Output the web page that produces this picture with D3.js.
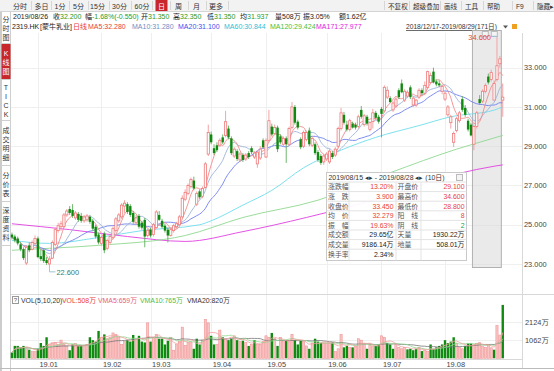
<!DOCTYPE html>
<html><head><meta charset="utf-8">
<script src="https://cdn.jsdelivr.net/npm/d3@7"></script>
<style>
body{margin:0;background:#fff;}
svg{display:block;font-family:"Liberation Sans","Noto Sans CJK SC",sans-serif;}
</style></head>
<body><svg id="c" width="554" height="371"></svg>
<script>
// ---------------- DATA ----------------
const dates = [
"2018-12-17","2018-12-18","2018-12-19","2018-12-20","2018-12-21","2018-12-24","2018-12-27","2018-12-28","2018-12-31",
"2019-01-02","2019-01-03","2019-01-04","2019-01-07","2019-01-08","2019-01-09","2019-01-10","2019-01-11","2019-01-14","2019-01-15","2019-01-16","2019-01-17","2019-01-18","2019-01-21","2019-01-22","2019-01-23","2019-01-24","2019-01-25","2019-01-28","2019-01-29","2019-01-30","2019-01-31",
"2019-02-01","2019-02-04","2019-02-08","2019-02-11","2019-02-12","2019-02-13","2019-02-14","2019-02-15","2019-02-18","2019-02-19","2019-02-20","2019-02-21","2019-02-22","2019-02-25","2019-02-26","2019-02-27","2019-02-28",
"2019-03-01","2019-03-04","2019-03-05","2019-03-06","2019-03-07","2019-03-08","2019-03-11","2019-03-12","2019-03-13","2019-03-14","2019-03-15","2019-03-18","2019-03-19","2019-03-20","2019-03-21","2019-03-22","2019-03-25","2019-03-26","2019-03-27","2019-03-28","2019-03-29",
"2019-04-01","2019-04-02","2019-04-03","2019-04-04","2019-04-08","2019-04-09","2019-04-10","2019-04-11","2019-04-12","2019-04-15","2019-04-16","2019-04-17","2019-04-18","2019-04-23","2019-04-24","2019-04-25","2019-04-26","2019-04-29","2019-04-30",
"2019-05-02","2019-05-03","2019-05-06","2019-05-07","2019-05-08","2019-05-09","2019-05-10","2019-05-14","2019-05-15","2019-05-16","2019-05-17","2019-05-20","2019-05-21","2019-05-22","2019-05-23","2019-05-24","2019-05-27","2019-05-28","2019-05-29","2019-05-30","2019-05-31",
"2019-06-03","2019-06-04","2019-06-05","2019-06-06","2019-06-10","2019-06-11","2019-06-12","2019-06-13","2019-06-14","2019-06-17","2019-06-18","2019-06-19","2019-06-20","2019-06-21","2019-06-24","2019-06-25","2019-06-26","2019-06-27","2019-06-28",
"2019-07-02","2019-07-03","2019-07-04","2019-07-05","2019-07-08","2019-07-09","2019-07-10","2019-07-11","2019-07-12","2019-07-15","2019-07-16","2019-07-17","2019-07-18","2019-07-19","2019-07-22","2019-07-23","2019-07-24","2019-07-25","2019-07-26","2019-07-29","2019-07-30","2019-07-31",
"2019-08-01","2019-08-02","2019-08-05","2019-08-06","2019-08-07","2019-08-08","2019-08-09","2019-08-12","2019-08-13","2019-08-14","2019-08-15","2019-08-16","2019-08-19","2019-08-20","2019-08-21","2019-08-22","2019-08-23","2019-08-26","2019-08-27","2019-08-28","2019-08-29"];

const open = [24.50,24.40,24.30,24.00,23.75,23.05,23.95,23.75,24.05,24.30,23.40,23.70,23.20,23.00,23.30,24.00,24.70,24.90,24.90,25.50,
25.80,25.75,25.35,25.55,25.45,25.20,25.25,25.40,25.20,24.90,24.50,24.05,24.55,23.80,24.10,24.35,24.70,25.20,25.40,25.95,
26.05,25.95,25.60,25.10,25.45,25.10,25.25,24.45,24.75,24.50,24.85,25.50,25.20,24.95,24.75,24.45,24.70,24.90,25.00,25.40,
26.30,26.60,26.95,27.25,26.05,26.70,26.45,26.90,28.60,29.60,28.90,29.05,29.05,29.45,29.55,29.90,29.40,28.50,28.75,28.30,
28.55,28.35,28.65,28.90,28.45,28.10,28.40,29.30,28.45,29.30,30.00,29.65,29.95,29.50,29.10,29.40,29.10,29.95,31.00,30.25,
29.35,29.00,29.35,29.80,29.05,29.10,28.70,28.50,28.20,28.35,28.20,28.65,28.55,29.00,29.90,30.60,30.10,29.85,30.15,30.10,
30.00,30.85,30.10,30.50,29.85,30.25,30.70,30.50,30.90,30.80,31.50,31.45,30.85,31.05,31.85,32.20,31.35,31.55,32.00,31.10,
31.10,31.50,31.85,31.70,32.00,32.25,32.80,32.30,32.20,31.80,31.40,30.60,30.20,29.20,29.80,30.30,31.40,30.95,30.30,30.10,
29.10,30.00,31.40,31.30,31.80,32.55,32.40,31.35,32.40,33.20,31.35];
const high = [24.60,24.50,24.40,24.10,23.85,23.95,24.10,24.20,24.45,24.40,23.75,23.80,23.35,23.40,24.20,24.85,25.10,25.20,25.60,25.80,
25.95,26.05,25.70,25.65,25.60,25.50,25.55,25.50,25.30,25.00,24.60,24.45,24.65,24.30,24.50,24.90,25.40,25.60,26.10,26.25,
26.15,26.05,25.70,25.50,25.55,25.20,25.35,24.80,24.85,25.10,25.75,25.70,25.30,25.05,24.85,24.85,25.05,25.15,25.50,26.50,
26.80,27.10,27.40,27.45,26.70,26.80,26.95,28.20,30.10,29.75,29.10,29.20,29.40,29.60,30.80,30.05,29.50,28.95,28.85,28.70,
28.65,28.65,28.75,29.00,28.75,28.80,29.00,29.40,29.40,30.85,30.15,30.10,30.05,29.60,29.50,29.50,30.00,31.25,31.10,30.35,
29.45,29.80,29.80,29.95,29.50,29.20,28.80,28.60,28.60,28.70,28.85,28.75,28.95,30.00,30.95,30.75,30.30,30.40,30.25,30.20,
30.60,31.05,30.65,30.60,30.25,30.90,30.80,30.60,31.00,32.10,32.05,31.55,31.30,31.50,31.95,32.40,31.90,31.85,32.10,31.55,
31.40,31.95,31.95,32.30,32.85,32.75,33.00,32.40,32.35,32.15,31.80,31.10,30.60,29.75,30.50,30.80,31.55,31.10,30.40,30.20,
30.10,30.80,31.60,31.90,32.20,32.70,32.90,32.35,34.60,33.60,32.20];
const low = [24.25,24.10,23.95,23.65,23.20,22.95,23.60,23.70,23.95,23.30,23.15,23.05,22.95,22.60,23.25,23.90,24.60,24.70,24.85,25.40,
25.50,25.35,25.25,25.15,25.10,25.10,25.15,25.05,24.70,24.30,24.00,23.95,23.55,23.70,24.00,24.25,24.60,25.10,25.30,25.60,
25.55,25.40,25.05,25.00,24.80,24.75,23.85,24.35,24.35,24.40,24.80,25.20,24.80,24.60,24.10,24.40,24.60,24.80,24.95,25.30,
26.20,26.50,26.85,26.75,25.95,26.30,26.35,26.85,28.50,29.10,28.55,28.70,28.95,29.10,29.45,29.35,28.55,28.40,28.25,28.20,
28.20,28.25,28.35,28.60,28.35,27.90,28.30,28.85,28.40,29.20,29.50,29.55,28.70,29.10,29.00,28.15,29.00,29.85,30.10,29.85,
28.85,28.90,29.25,29.00,28.95,28.55,28.20,28.05,28.05,28.25,28.10,28.35,28.45,28.90,29.80,30.10,29.75,29.75,29.90,29.85,
29.90,30.40,30.00,30.05,29.75,29.90,30.35,30.15,29.45,30.70,31.40,31.20,30.75,30.95,31.40,31.70,31.25,31.45,31.40,31.00,
31.00,31.40,31.60,31.60,31.90,32.15,32.20,32.05,32.00,31.65,31.30,30.50,29.90,28.95,29.70,30.20,30.75,30.50,29.75,29.50,
28.80,29.90,31.10,31.20,31.70,32.15,32.30,31.35,32.30,33.00,30.50];
const close = [24.35,24.20,24.05,23.75,23.30,23.85,23.70,24.10,24.30,23.35,23.25,23.15,23.05,23.25,24.10,24.75,24.95,25.05,25.50,25.70,
25.60,25.45,25.60,25.25,25.20,25.40,25.45,25.15,24.80,24.40,24.10,24.35,23.70,24.20,24.40,24.80,25.30,25.50,26.00,26.10,
25.65,25.50,25.15,25.35,24.90,24.85,24.40,24.70,24.45,25.00,25.65,25.25,24.90,24.70,24.45,24.75,24.95,25.05,25.40,26.35,
26.65,27.00,27.30,26.85,26.60,26.40,26.85,28.10,29.70,29.20,28.65,28.80,29.30,29.20,30.25,29.45,28.65,28.85,28.35,28.60,
28.30,28.55,28.45,28.70,28.65,28.70,28.85,28.95,29.30,30.30,29.60,29.95,28.85,29.20,29.40,29.10,29.90,31.00,30.20,29.95,
28.95,29.70,29.70,29.10,29.40,28.65,28.30,28.15,28.50,28.60,28.75,28.45,28.85,29.90,30.70,30.20,29.85,30.30,29.95,29.95,
30.50,30.50,30.55,30.15,30.20,30.70,30.45,30.25,30.65,32.00,31.85,31.25,31.20,31.40,31.50,31.75,31.80,31.75,31.50,31.45,
31.35,31.85,31.70,32.10,32.80,32.60,32.25,32.15,32.10,32.05,31.70,31.00,30.50,29.65,30.40,30.70,30.85,30.60,29.85,29.55,
30.00,30.70,31.20,31.80,32.10,32.25,32.75,32.20,33.10,33.45,31.50];
// volume, unit 万股
const volume = [340,731,731,646,731,561,510,391,391,561,901,731,1241,816,901,935,816,1071,816,731,
476,816,867,731,731,731,816,1241,1071,986,1615,1241,1411,1156,1241,1496,1411,1241,816,986,
1071,986,1377,1105,1326,986,935,2091,986,1241,1411,1156,1156,816,1037,1241,476,816,986,1836,
765,935,969,561,1156,816,1071,2295,2091,1326,816,816,1666,1241,1105,1071,1156,1326,1071,986,
1037,935,731,816,1071,816,816,986,1326,1241,1496,1156,731,1241,986,1071,1071,1411,1071,816,
1071,986,731,561,901,1156,986,901,901,901,901,935,391,561,1411,646,731,646,646,731,
1156,1071,850,561,816,731,731,816,1326,1241,901,816,561,816,646,561,646,527,561,476,
561,646,425,476,391,816,561,646,731,816,1071,901,986,1241,901,646,561,731,880,880,
800,870,920,720,650,800,620,508,1930,1370,3150];

// long moving averages (date, value)
const ma60Pts  = [["2018-12-17",24.20],["2019-01-08",24.05],["2019-01-31",24.35],["2019-02-26",24.70],["2019-03-26",25.00],["2019-04-01",25.20],["2019-04-17",26.00],["2019-05-06",26.75],["2019-05-22",27.90],["2019-06-11",28.80],["2019-06-27",29.45],["2019-07-19",30.05],["2019-08-05",30.50],["2019-08-26",30.84],["2019-08-29",31.00]];
const ma120Pts = [["2018-12-17",23.70],["2019-01-08",23.80],["2019-01-31",23.95],["2019-03-19",24.45],["2019-04-17",25.37],["2019-05-29",26.25],["2019-07-05",27.65],["2019-08-07",28.85],["2019-08-26",29.42],["2019-08-29",29.55]];
const ma171Pts = [["2018-12-17",25.05],["2019-01-17",24.75],["2019-02-19",24.40],["2019-03-19",24.15],["2019-04-17",24.65],["2019-05-23",25.37],["2019-07-05",26.50],["2019-08-08",27.62],["2019-08-26",27.98],["2019-08-29",28.05]];

const priceTicks = [23,25,27,29,31,33];
const volTicks = [1062,2124];
const monthStarts = ["2019-01-02","2019-02-01","2019-03-01","2019-04-01","2019-05-02","2019-06-03","2019-07-02","2019-08-01"];
const monthLabels = ["19.01","19.02","19.03","19.04","19.05","19.06","19.07","19.08"];
const periodTabs = ["分时","多日","1分","5分","15分","30分","60分","日","周","月","更多"];
const toolTabs = ["不复权","超级叠加","画线","工具","帮助","F9","隐藏▸"];
const sideTabs = ["分时图","K线图","TICK","成交明细","分价表","深度资料"];
const rangeStart = "2019-08-15", rangeEnd = "2019-08-28";
const statRows = [["涨跌幅","13.20%","开盘价","29.100"],["涨　跌","3.900","最高价","34.600"],["收盘价","33.450","最低价","28.800"],["均　价","32.279","阳　线","8"],["振　幅","19.63%","阴　线","2"],["成交额","29.65亿","天量","1930.22万"],["成交量","9186.14万","地量","508.01万"],["换手率","2.34%","",""]];

// ---------------- DRAW ----------------
const RED="#e8403c", GREEN="#118a11", VGREEN="#1f9a1f";
const svg = d3.select("#c");
const W=554,H=371;
const x = d3.scaleBand().domain(dates).range([10.5,504.2]);
const cx = d => x(d)+x.bandwidth()/2;
const y = d3.scaleLinear().domain([23,33]).range([264,67.7]);
const yv = d3.scaleLinear().domain([0,2124]).range([358.3,322.3]);
const data = dates.map((d,i)=>({d,i,o:open[i],h:high[i],l:low[i],c:close[i],v:volume[i]}));
const T=(sel,xx,yy,txt,fs,fill,anchor)=>sel.append("text").attr("x",xx).attr("y",yy).attr("font-size",fs).attr("fill",fill).attr("text-anchor",anchor||"start").text(txt);

// toolbar
svg.append("rect").attr("x",0).attr("y",0).attr("width",W).attr("height",11).attr("fill","#f2f2f2");
svg.append("line").attr("x1",0).attr("x2",W).attr("y1",11.5).attr("y2",11.5).attr("stroke","#d4d4d4");
const tabC=[20,41.5,60,78.5,97.5,119.5,142,161.5,178.5,196.5,216];
periodTabs.forEach((t,k)=>{
  const sel = t==="日";
  if(sel) svg.append("rect").attr("x",155.5).attr("y",0).attr("width",12).attr("height",11).attr("fill","#c8262b");
  T(svg,tabC[k],8.5,t,7,sel?"#fff":"#333","middle");
  if(k<periodTabs.length-1){const sx=(tabC[k]+tabC[k+1])/2; svg.append("line").attr("x1",Math.round(sx)+0.5).attr("x2",Math.round(sx)+0.5).attr("y1",1).attr("y2",10).attr("stroke","#d6d6d6");}
});
svg.append("line").attr("x1",228.5).attr("x2",228.5).attr("y1",1).attr("y2",10).attr("stroke","#d6d6d6");
const toolX=[388,413,444,465,487,516,537];
toolTabs.forEach((t,k)=>{
  T(svg,toolX[k],8.5,t,6.6,"#333");
  svg.append("line").attr("x1",toolX[k]-3.5).attr("x2",toolX[k]-3.5).attr("y1",1).attr("y2",10).attr("stroke","#d6d6d6");
});

// info row 2
[["2019/08/26",13,"#222"],["收",53,"#222"],["32.200",60,VGREEN],["幅",85,"#222"],["-1.68%(-0.550)",92,VGREEN],["开",141,"#222"],["31.350",148,VGREEN],["高",173,"#222"],["32.350",180,VGREEN],["低",207,"#222"],["31.350",214,VGREEN],["均",240,"#222"],["31.937",247,VGREEN],["量508万",275,"#222"],["振3.05%",303,"#222"],["额1.62亿",339,"#222"]]
 .forEach(([t,xx,c])=>T(svg,xx,18.5,t,7,c));
// row 3
[["2319.HK",12,"#222"],["[蒙牛乳业]",40,"#222"],["日线",73,RED],["MA5:32.280",88,RED],["MA10:31.280",132,"#6d8fc9"],["MA20:31.100",178,"#3d4ff0"],["MA60:30.844",224,"#27c3da"],["MA120:29.424",270,"#3fbf3f"],["MA171:27.977",316,"#e020e0"]]
 .forEach(([t,xx,c])=>T(svg,xx,29,t,7,c));
T(svg,406,29,"2018/12/17-2019/08/29(171日)",7.2,"#333").attr("text-decoration","underline").attr("textLength",91).attr("lengthAdjust","spacingAndGlyphs");
svg.append("path").attr("d","M503,25.5 L508,25.5 L505.5,28.5 Z").attr("fill","#555");
svg.append("rect").attr("x",512).attr("y",24).attr("width",5).attr("height",5).attr("fill","#f0a020");

// left sidebar
svg.append("line").attr("x1",1).attr("x2",1).attr("y1",12).attr("y2",H).attr("stroke","#999");
svg.append("line").attr("x1",10.5).attr("x2",10.5).attr("y1",12).attr("y2",H).attr("stroke","#cfcfcf");
const sideY=[12,44,81,122,166,202];
const sideEnd=[43,79,120,165,201,245];
sideTabs.forEach((t,k)=>{
  if(t==="K线图") svg.append("rect").attr("x",1.5).attr("y",sideY[k]).attr("width",9).attr("height",sideEnd[k]-sideY[k]).attr("fill","#c8262b");
  const chars=[...t]; const step=9;
  const total=(chars.length)*step; const start=(sideY[k]+sideEnd[k])/2-total/2+step-1.5;
  chars.forEach((ch,j)=>T(svg,6,start+j*step,ch,7,t==="K线图"?"#fff":"#333","middle"));
  svg.append("line").attr("x1",1).attr("x2",10.5).attr("y1",sideEnd[k]+0.5).attr("y2",sideEnd[k]+0.5).attr("stroke","#cfcfcf");
});

// grids
const g = svg.append("g");
priceTicks.forEach(p=>g.append("line").attr("x1",11).attr("x2",522).attr("y1",Math.round(y(p))+0.5).attr("y2",Math.round(y(p))+0.5).attr("stroke","#efefef"));
monthStarts.forEach(m=>g.append("line").attr("x1",Math.round(cx(m))+0.5).attr("x2",Math.round(cx(m))+0.5).attr("y1",33).attr("y2",359).attr("stroke","#efefef"));
volTicks.forEach(v=>g.append("line").attr("x1",11).attr("x2",522).attr("y1",Math.round(yv(v))+0.5).attr("y2",Math.round(yv(v))+0.5).attr("stroke","#efefef"));
svg.append("line").attr("x1",522.5).attr("x2",522.5).attr("y1",33).attr("y2",368).attr("stroke","#d8d8d8");
svg.append("line").attr("x1",11).attr("x2",554).attr("y1",294.5).attr("y2",294.5).attr("stroke","#d8d8d8");
svg.append("line").attr("x1",11).attr("x2",522).attr("y1",359.5).attr("y2",359.5).attr("stroke","#d8d8d8");
svg.append("line").attr("x1",0).attr("x2",554).attr("y1",368.5).attr("y2",368.5).attr("stroke","#bbb");

// axis labels
priceTicks.forEach(p=>T(svg,524,y(p)+2.6,d3.format(".3f")(p),7.4,"#444"));
volTicks.forEach(v=>T(svg,525,yv(v)+2.6,v+"万",7.4,"#444"));
monthStarts.forEach((m,k)=>T(svg,cx(m)+1.5,366.5,monthLabels[k],7.4,"#444"));

// highlight range
const rx0 = x(rangeStart), rx1 = x(rangeEnd)+x.bandwidth();
svg.append("rect").attr("x",rx0).attr("y",30.5).attr("width",rx1-rx0).attr("height",237).attr("fill","#d9d9d9").attr("fill-opacity",0.55).attr("stroke","#b0b0b0");
svg.append("rect").attr("x",rx1-19).attr("y",31.5).attr("width",6).attr("height",5).attr("fill","#f4f4f4").attr("stroke","#bbb");
svg.append("rect").attr("x",rx1-10).attr("y",31.5).attr("width",6).attr("height",5).attr("fill","#f4f4f4").attr("stroke","#bbb");

// MA lines
function maSeries(arr,n){return arr.map((_,i)=>{const s=Math.max(0,i-n+1);return d3.mean(arr.slice(s,i+1));});}
const line = d3.line().x((d,i)=>cx(dates[i])).y(d=>y(d)).curve(d3.curveMonotoneX);
const lineK = d3.line().x(d=>cx(d[0])).y(d=>y(d[1])).curve(d3.curveMonotoneX);
svg.append("path").attr("d",lineK(ma171Pts)).attr("fill","none").attr("stroke","#e040e0").attr("stroke-width",0.9);
svg.append("path").attr("d",lineK(ma120Pts)).attr("fill","none").attr("stroke","#8fd88f").attr("stroke-width",0.9);
svg.append("path").attr("d",lineK(ma60Pts)).attr("fill","none").attr("stroke","#6fdcec").attr("stroke-width",0.9);
svg.append("path").attr("d",line(maSeries(close,20))).attr("fill","none").attr("stroke","#6f7ff0").attr("stroke-width",0.9);
svg.append("path").attr("d",line(maSeries(close,10))).attr("fill","none").attr("stroke","#9db3d8").attr("stroke-width",0.9);
svg.append("path").attr("d",line(maSeries(close,5))).attr("fill","none").attr("stroke","#f08a8a").attr("stroke-width",0.9);

// candles
const cg = svg.append("g");
data.forEach(d=>{
  const up = d.c>=d.o; const c=cx(d.d);
  cg.append("line").attr("x1",c).attr("x2",c).attr("y1",y(d.h)).attr("y2",y(d.l)).attr("stroke",up?"#f29b9b":"#5fae5f").attr("stroke-width",0.9);
  const top=y(Math.max(d.o,d.c)), bot=y(Math.min(d.o,d.c));
  if(up) cg.append("rect").attr("x",c-1.1).attr("y",top).attr("width",2.2).attr("height",Math.max(0.8,bot-top)).attr("fill","#fff").attr("stroke","#ef7a7a").attr("stroke-width",0.8);
  else cg.append("rect").attr("x",c-1.2).attr("y",top).attr("width",2.4).attr("height",Math.max(0.8,bot-top)).attr("fill",GREEN);
});

// high / low marks
const hiI = d3.maxIndex(high), loI = d3.minIndex(low);
svg.append("line").attr("x1",cx(dates[hiI])).attr("x2",cx(dates[hiI])-6).attr("y1",y(high[hiI])).attr("y2",y(high[hiI])).attr("stroke","#9bc3d8");
T(svg,cx(dates[hiI])-6,y(high[hiI])+4,d3.format(".3f")(high[hiI]),7.4,RED,"end");
svg.append("line").attr("x1",cx(dates[loI])).attr("x2",cx(dates[loI])+6).attr("y1",y(low[loI])).attr("y2",y(low[loI])).attr("stroke","#9bc3d8");
T(svg,cx(dates[loI])+7,y(low[loI])+3,d3.format(".3f")(low[loI]),7.4,"#3a7a6a");

// info box
const bx=326.5, by=172.5, bw=140, bh=88;
const ib = svg.append("g");
ib.append("rect").attr("x",bx).attr("y",by).attr("width",bw).attr("height",bh).attr("fill","#fff").attr("fill-opacity",0.95).attr("stroke","#c9c9c9");
T(ib,bx+2,by+7.5,"2019/08/15 ◂▸ - 2019/08/28 ◂▸   (10日)",6.9,"#333");
ib.append("rect").attr("x",bx+bw-10).attr("y",by+2).attr("width",6).attr("height",6).attr("fill","#f4f4f4").attr("stroke","#bbb");
const rowH=9.6, ty0=by+9.5;
const colX=[bx,bx+22,bx+69,bx+94,bx+bw];
statRows.forEach((r,k)=>{
  const yy=ty0+k*rowH;
  ib.append("line").attr("x1",bx).attr("x2",bx+bw).attr("y1",yy).attr("y2",yy).attr("stroke","#e3e3e3");
  T(ib,colX[0]+1.5,yy+7.3,r[0],6.9,"#555");
  T(ib,colX[2]-2,yy+7.3,r[1],6.9,k<5?RED:"#222","end");
  T(ib,colX[2]+2,yy+7.3,r[2],6.9,"#555");
  T(ib,colX[4]-2,yy+7.3,r[3],6.9,k<4?RED:(k===4?VGREEN:"#222"),"end");
});
[1,2,3].forEach(j=>ib.append("line").attr("x1",colX[j]+0.5).attr("x2",colX[j]+0.5).attr("y1",ty0).attr("y2",by+bh).attr("stroke","#e3e3e3"));

// volume header
[["VOL(5,10,20)",21,"#333"],["VOL:508万",62,RED],["VMA5:659万",98,"#e8607a"],["VMA10:765万",140,"#4cbc4c"],["VMA20:820万",187,"#333"]]
 .forEach(([t,xx,c])=>T(svg,xx,302.5,t,6.9,c));
svg.append("rect").attr("x",12.5).attr("y",296.5).attr("width",6).attr("height",7).attr("fill","#fff").attr("stroke","#999");
T(svg,15.5,302,"?",6,"#555","middle");

// volume bars
const vg = svg.append("g");
data.forEach((d,i)=>{
  const up = i===0 ? d.c>=d.o : d.c>=close[i-1];
  const c=cx(d.d), t=yv(d.v);
  if(up) vg.append("rect").attr("x",c-1.1).attr("y",t).attr("width",2.2).attr("height",358.3-t).attr("fill","#f9c4c4").attr("stroke","#f19595").attr("stroke-width",0.6);
  else vg.append("rect").attr("x",c-1.2).attr("y",t).attr("width",2.4).attr("height",358.3-t).attr("fill",GREEN);
});
const vline = d3.line().x((d,i)=>cx(dates[i])).y(d=>yv(d)).curve(d3.curveMonotoneX);
svg.append("path").attr("d",vline(maSeries(volume,20))).attr("fill","none").attr("stroke","#777").attr("stroke-width",0.8);
svg.append("path").attr("d",vline(maSeries(volume,10))).attr("fill","none").attr("stroke","#8fd88f").attr("stroke-width",0.8);
svg.append("path").attr("d",vline(maSeries(volume,5))).attr("fill","none").attr("stroke","#f2a0a0").attr("stroke-width",0.8);
</script></body></html>
